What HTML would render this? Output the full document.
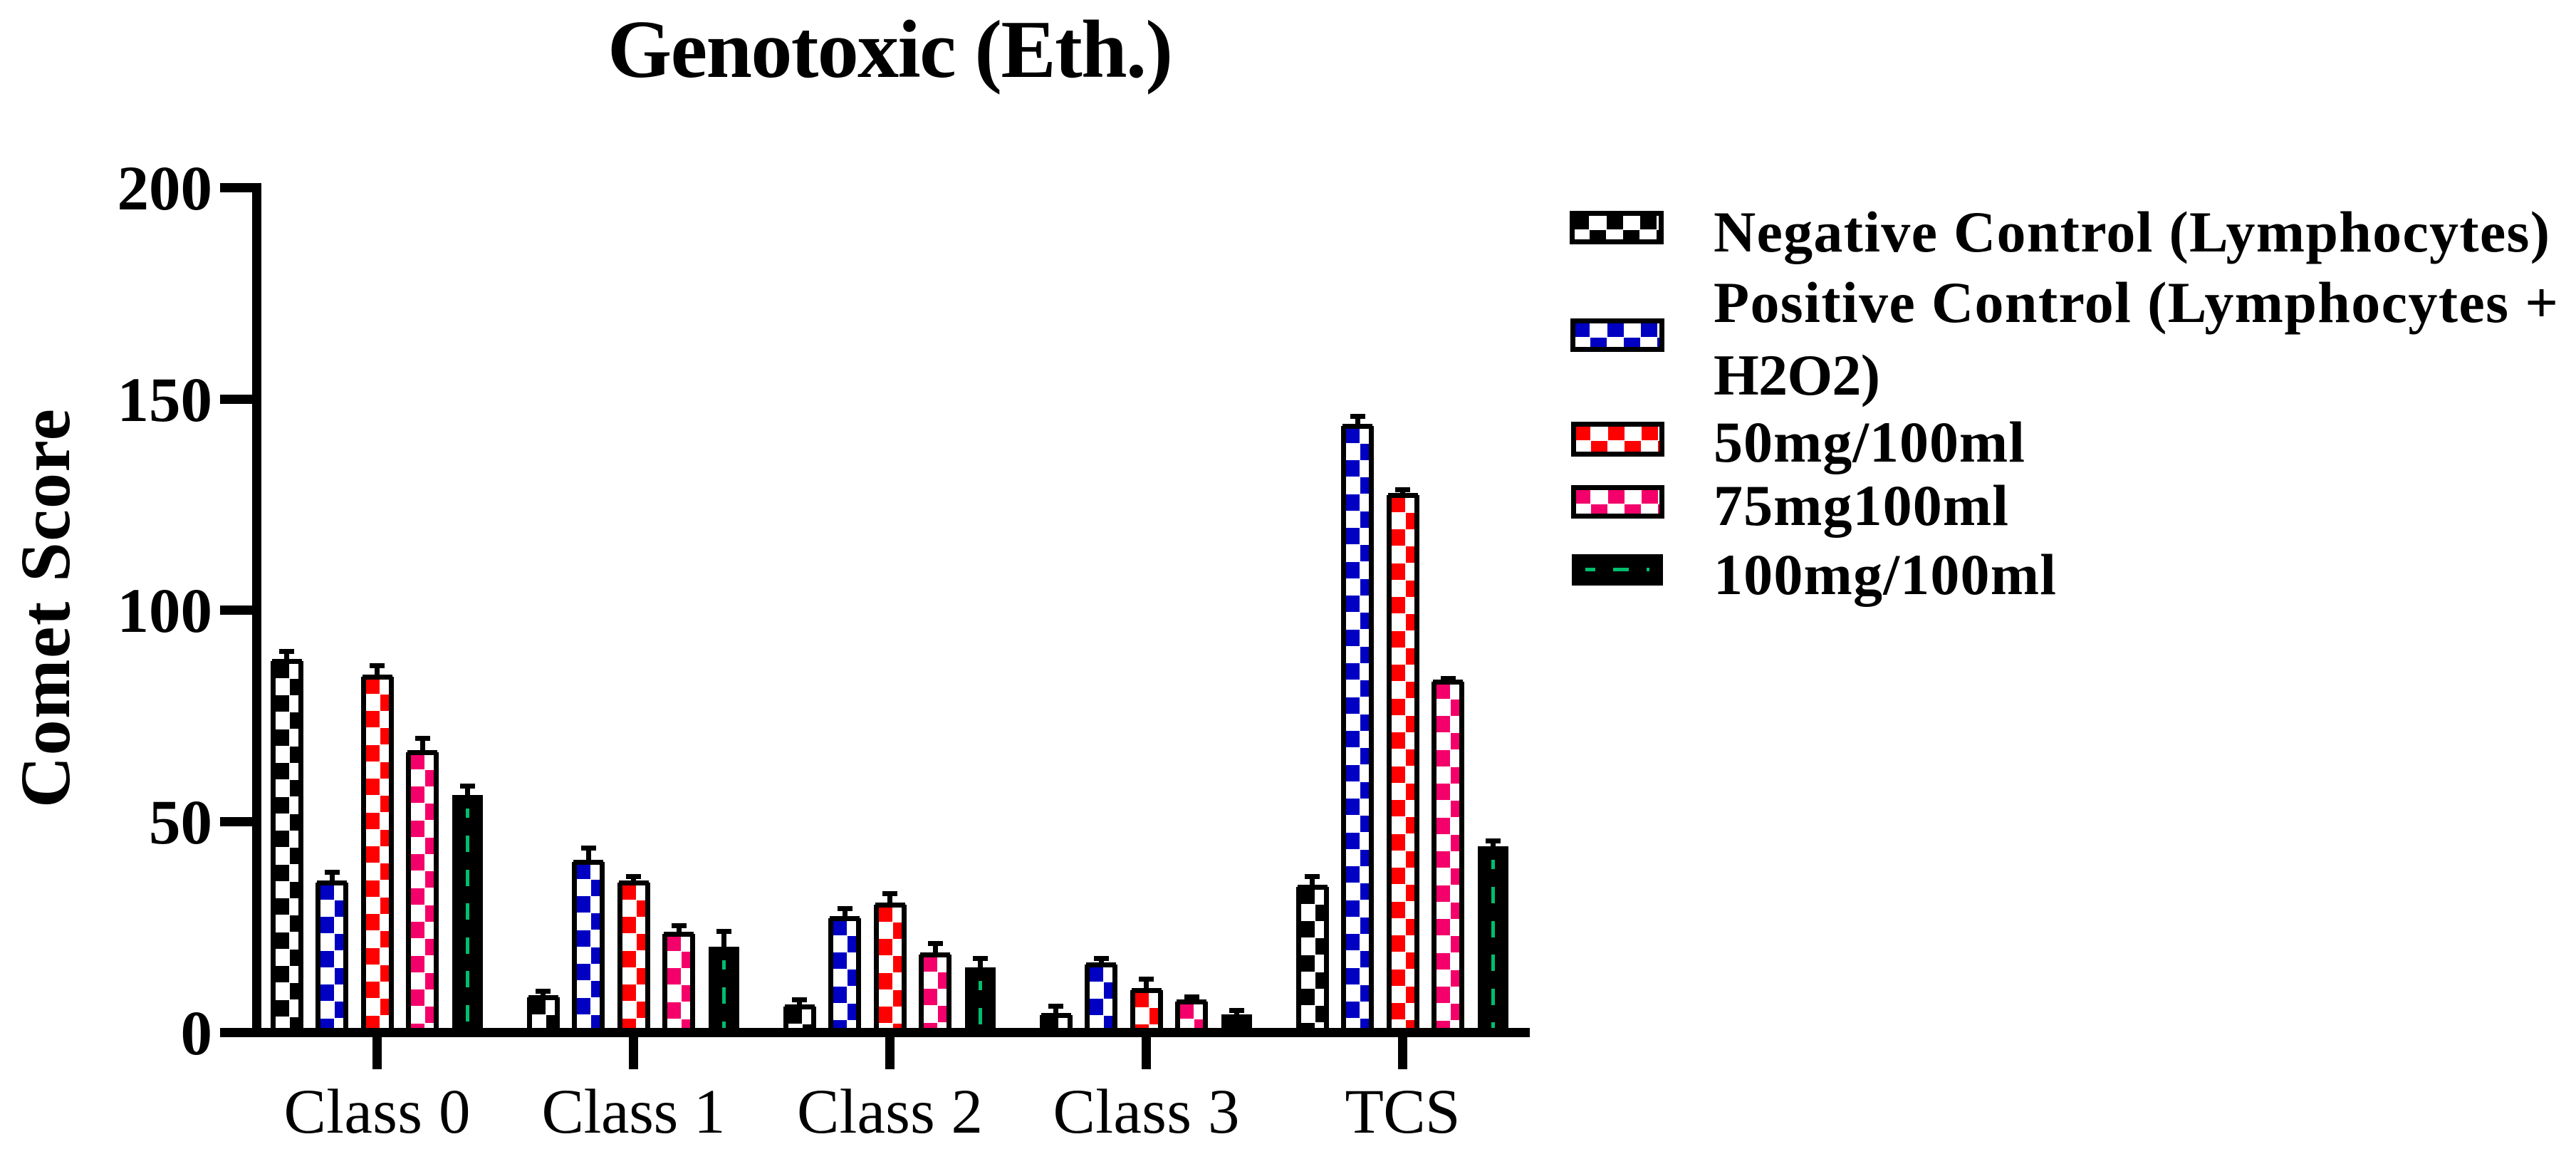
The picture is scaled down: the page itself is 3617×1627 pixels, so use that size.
<!DOCTYPE html>
<html lang="en">
<head>
<meta charset="utf-8">
<title>Genotoxic (Eth.)</title>
<style>
html,body{margin:0;padding:0;background:#fff;width:3617px;height:1627px;overflow:hidden}
svg{display:block}
text{font-family:"Liberation Serif",serif;fill:#000}
.b{font-weight:bold}
</style>
</head>
<body>
<svg id="chart" xmlns="http://www.w3.org/2000/svg" width="3617" height="1627" viewBox="0 0 3617 1627" shape-rendering="crispEdges">
<rect x="0" y="0" width="3617" height="1627" fill="#fff"/>
<text class="b" x="1250" y="108" font-size="116" text-anchor="middle" textLength="794" lengthAdjust="spacing">Genotoxic (Eth.)</text>
<text class="b" transform="translate(97,1134) rotate(-90)" x="0" y="0" font-size="100" textLength="560" lengthAdjust="spacing">Comet Score</text>
</svg>
<script>
const categories = ['Class 0', 'Class 1', 'Class 2', 'Class 3', 'TCS'];
const yTickValues = [0, 50, 100, 150, 200];
const negativeControl = [88.4, 8.85, 6.66, 4.64, 35.0];
const positiveControl = [36.0, 40.9, 27.6, 16.6, 144.1];
const dose50 = [84.7, 36.0, 30.8, 10.5, 127.7];
const dose75 = [66.9, 23.9, 19.0, 7.8, 83.6];
const dose100 = [56.2, 20.3, 15.4, 4.3, 44.1];
const negativeControlErr = [2.4, 1.55, 1.69, 2.19, 2.5];
const positiveControlErr = [2.5, 3.4, 2.3, 1.5, 2.4];
const dose50Err = [2.7, 1.5, 2.7, 2.7, 1.4];
const dose75Err = [3.3, 2.0, 2.7, 1.2, 0.8];
const dose100Err = [2.7, 4.2, 2.7, 1.5, 1.9];

const svg = document.getElementById('chart');
const NS = 'http://www.w3.org/2000/svg';
const BASE_TOP = 1443;

function yScale(v) { return 1449.5 - 5.93 * v; }
function xScale(i) { return 529.5 + 360 * i; }

function make(parent, tag, attrs) {
  const el = document.createElementNS(NS, tag);
  for (const k in attrs) el.setAttribute(k, attrs[k]);
  parent.appendChild(el);
  return el;
}
function block(parent, x0, y0, x1, y1, fill) {
  const el = make(parent, 'rect', {x: Math.round(x0), y: Math.round(y0), width: Math.round(x1) - Math.round(x0), height: Math.round(y1) - Math.round(y0), fill: fill});
  
  return el;
}

const seriesList = [
  {key: 'negative-control', values: negativeControl, errs: negativeControlErr, color: '#000000', off: -127},
  {key: 'positive-control', values: positiveControl, errs: positiveControlErr, color: '#0000C2', off: -63.5},
  {key: '50mg', values: dose50, errs: dose50Err, color: '#FF0000', off: 0},
  {key: '75mg', values: dose75, errs: dose75Err, color: '#F4006A', off: 63.5},
  {key: '100mg', values: dose100, errs: dose100Err, color: '#000000', solid: true, off: 127}
];

function drawCheckerBar(g, xc, top, color) {
  const left = Math.round(xc - 23);
  const right = left + 46;
  const side1 = block(g, left, top + 3, left + 7, BASE_TOP, '#000');
  
  const side2 = block(g, right - 7, top + 3, right, BASE_TOP, '#000');
  
  const cap = block(g, left + 2, top, right - 2, top + 7, '#000');
  
  const t = top + 7;
  for (let r = 0; ; r++) {
    const y0 = r === 0 ? t : t + 20.5 + (r - 1) * 23.75;
    if (y0 >= BASE_TOP) break;
    const y1 = Math.min(BASE_TOP, r === 0 ? t + 20 : y0 + 23);
    const x0 = r % 2 === 0 ? left + 7 : left + 27;
    const x1 = r % 2 === 0 ? left + 26 : right - 7;
    const cell = block(g, x0, y0, x1, y1, color);
    
  }
}

function drawSolidBar(g, xc, top) {
  const left = Math.round(xc - 21.5);
  const body = block(g, left, top, left + 43, BASE_TOP, '#000');
  
  const gx = Math.round(xc - 2.5);
  const first = top + 19;
  if (first < BASE_TOP) {
    const d0 = block(g, gx, first, gx + 5, Math.min(BASE_TOP, top + 32), '#00BE6E');
    
  }
  for (let y = top + 57; y < BASE_TOP; y += 47.5) {
    const d = block(g, gx, y, gx + 5, Math.min(BASE_TOP, y + 23), '#00BE6E');
    
  }
}

seriesList.forEach(function (s) {
  s.values.forEach(function (v, i) {
    const xc = xScale(i) + s.off;
    const top = Math.round(yScale(v));
    const capTop = Math.round(yScale(v + s.errs[i]));
    const g = make(svg, 'g', {});
    
    
    const cx = Math.round(xc - 3.5);
    const stem = block(g, cx, capTop, cx + 7, top + 1, '#000');
    
    const whisker = block(g, cx - 7, capTop, cx + 14, capTop + 7, '#000');
    
    if (s.solid) drawSolidBar(g, xc, top);
    else drawCheckerBar(g, xc, top, s.color);
  });
});

/* axes */
const yAxis = block(svg, 354, 257, 367, 1456, '#000');

const xAxis = block(svg, 354, 1443, 2148, 1456, '#000');


yTickValues.forEach(function (v) {
  const y = yScale(v);
  const tick = block(svg, 309, y - 6.5, 354, y + 6.5, '#000');
  
  const label = make(svg, 'text', {x: 298, y: Math.round(y + 30.5), 'font-size': 89, 'text-anchor': 'end', 'class': 'b'});
  
  
  label.textContent = String(v);
});

const xLabelWidths = [262, 258, 261, 262, 162];
categories.forEach(function (c, i) {
  const x = xScale(i);
  const tick = block(svg, x - 6.5, 1456, x + 6.5, 1501, '#000');
  
  const label = make(svg, 'text', {x: x, y: 1590, 'font-size': 89, 'text-anchor': 'middle', textLength: xLabelWidths[i], lengthAdjust: 'spacing'});
  
  
  label.textContent = c;
});

/* legend */
const legendLabels = [
  {lines: ['Negative Control (Lymphocytes)'], widths: [1174], ys: [353]},
  {lines: ['Positive Control (Lymphocytes +', 'H2O2)'], widths: [1186, 234], ys: [452, 554]},
  {lines: ['50mg/100ml'], widths: [437], ys: [648]},
  {lines: ['75mg100ml'], widths: [414], ys: [737]},
  {lines: ['100mg/100ml'], widths: [481], ys: [834]}
];
const legendBoxes = [
  [2204, 296, 132, 47],
  [2205, 447, 132, 47],
  [2206, 592, 131, 49],
  [2206, 681, 131, 47],
  [2207, 778, 128, 44]
];

legendLabels.forEach(function (e, idx) {
  const g = make(svg, 'g', {});
  
  
  const box = legendBoxes[idx];
  const bx = box[0], by = box[1], bw = box[2], bh = box[3];
  const color = seriesList[idx].color;
  const frame = block(g, bx, by, bx + bw, by + bh, '#000');
  
  if (seriesList[idx].solid) {
    const gy = by + 19;
    const d1 = block(g, bx + 19, gy, bx + 33, gy + 5, '#00BE6E');
    
    const d2 = block(g, bx + 58, gy, bx + 80, gy + 5, '#00BE6E');
    
    const d3 = block(g, bx + 105, gy, bx + 109, gy + 5, '#00BE6E');
    
  } else {
    const l = bx + 7, r = bx + bw - 7, t = by + 7, b = by + bh - 7;
    const inner = block(g, l, t, r, b, '#fff');
    
    for (let k = 0; ; k++) {
      const x0 = k === 0 ? l : l + 21 + (k - 1) * 23.5;
      if (x0 >= r) break;
      const x1 = Math.min(r, k === 0 ? l + 20 : x0 + 23);
      const y0 = k % 2 === 0 ? t : t + 20;
      const y1 = k % 2 === 0 ? t + 19 : b;
      const cell = block(g, x0, y0, x1, y1, color);
      
    }
  }
  e.lines.forEach(function (line, j) {
    const tx = make(g, 'text', {x: 2406, y: e.ys[j], 'font-size': 82, 'class': 'b', textLength: e.widths[j], lengthAdjust: 'spacing'});
    
    
    tx.textContent = line;
  });
});
</script>
</body>
</html>
